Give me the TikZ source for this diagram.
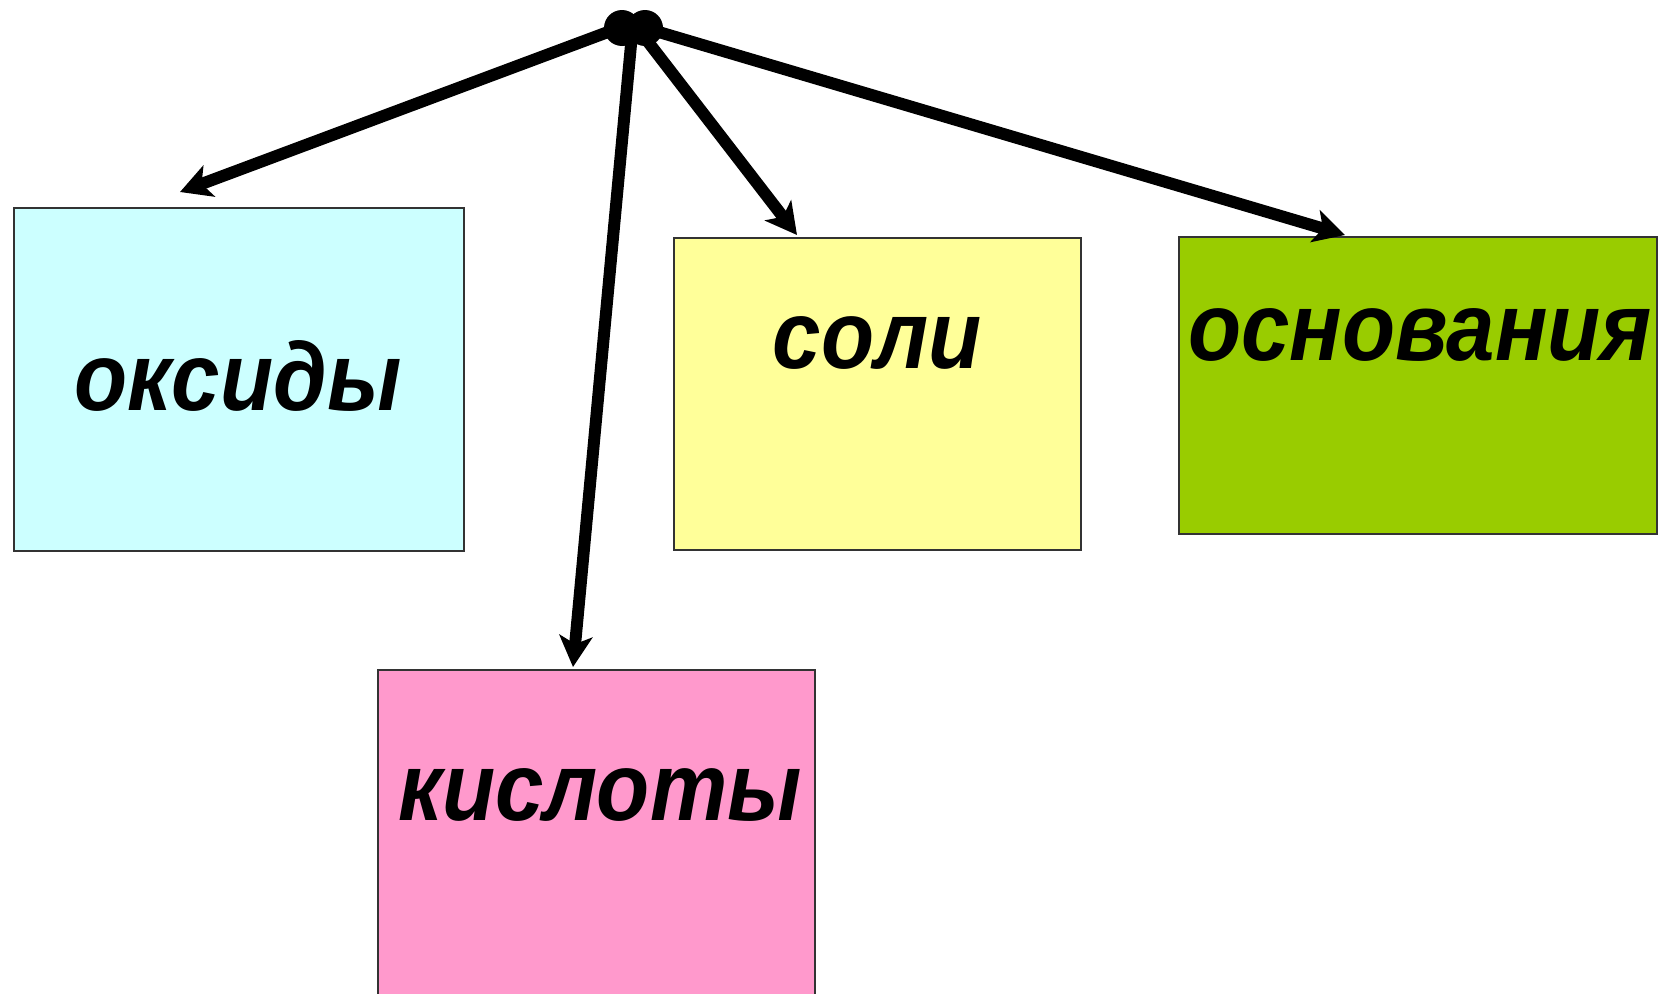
\documentclass[tikz,border=0pt]{standalone}
\usepackage{fontspec}
\setmainfont{Liberation Sans}
\newfontfamily\uzkij[FakeStretch=0.9]{Liberation Sans}
\usetikzlibrary{arrows.meta,calc}
\definecolor{oksid}{HTML}{CCFFFF}
\definecolor{sol}{HTML}{FFFF99}
\definecolor{osnov}{HTML}{99CC00}
\definecolor{kislot}{HTML}{FF99CC}

\begin{document}
\begin{tikzpicture}[x=0.02cm,y=-0.02cm]
	\tikzset{klass/.style={draw=black!80,line width=1pt,anchor=north west,inner sep=0pt},
		slovo/.style={anchor=base,font=\uzkij\fontsize{55}{60}\selectfont\bfseries\itshape},
		strelka/.style={line width=6.8pt,-{Stealth[length=0.62cm,width=0.66cm,inset=0.16cm]}}}
	\useasboundingbox (0,0) rectangle (1658,994);
	% boxes
	\node[klass,fill=oksid,minimum width=9.0cm,minimum height=6.86cm] (oksidy) at (13,207) {};
	\node[klass,fill=sol,minimum width=8.14cm,minimum height=6.24cm] (soli) at (673,237) {};
	\node[klass,fill=osnov,minimum width=9.56cm,minimum height=5.94cm] (osnovaniya) at (1178,236) {};
	\node[klass,fill=kislot,minimum width=8.74cm,minimum height=7cm] (kisloty) at (377,669) {};
	% words
	\node[slovo] (t1) at (238,410) {оксиды};
	\node[slovo] (t2) at (877,368) {соли};
	\node[slovo] (t3) at (1420,360) {основания};
	\node[slovo] (t4) at (600,820) {кислоты};
	% hub
	\fill (622,28) circle (18) (645,28) circle (18);
	\coordinate (h1) at (608,32);
	\coordinate (h2) at (632,34);
	\coordinate (h3) at (642,34);
	\coordinate (h4) at (652,30);
	\draw[strelka] (h1)--($(oksidy.north west)+(167,-15)$);
	\draw[strelka] (h2)--($(kisloty.north west)+(196,-2)$);
	\draw[strelka] (h3)--($(soli.north west)+(124,-2)$);
	\draw[strelka] (h4)--($(osnovaniya.north west)+(167,-1)$);
\end{tikzpicture}
\end{document}
